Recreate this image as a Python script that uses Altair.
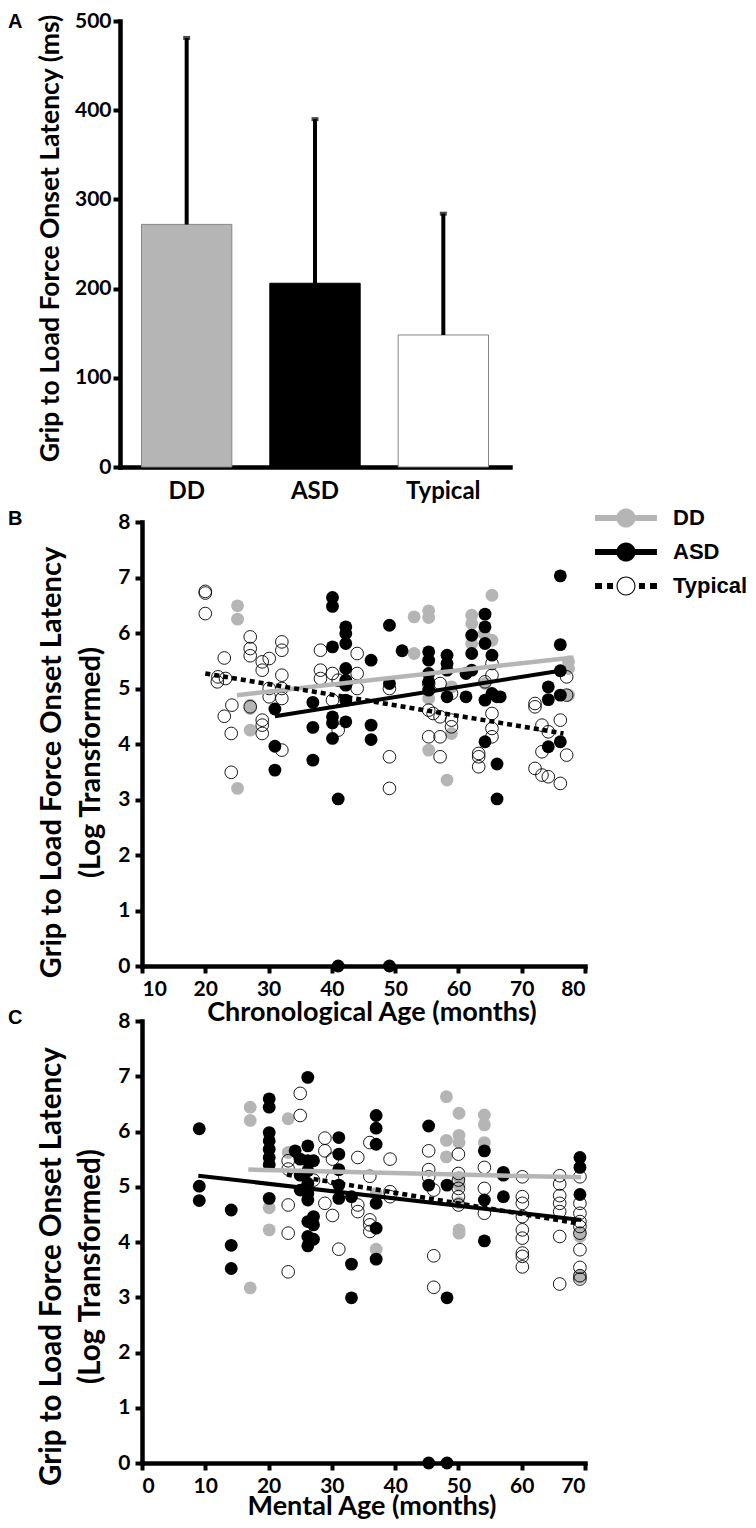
import altair as alt
import pandas as pd

# ---------------- data ----------------
GROUPS = ["DD", "ASD", "Typical"]
MEAN_MS = [272, 206, 148]
UPPER_MS = [481, 390, 284]

# Panel B : chronological age (months) vs log latency
B_DD_X = [25.1, 25.1, 25.1, 27.1, 27.1, 27.1, 53, 55.3, 55.3, 53, 55.3, 55.3, 58.2, 58.9, 58.9,
          62.1, 62.1, 62.1, 65.3, 65.3, 64.2, 77.4, 77.4, 77.4, 64]
B_DD_Y = [6.49, 6.25, 3.2, 4.7, 4.64, 4.25, 6.29, 6.4, 6.28, 5.63, 4.82, 3.89, 3.35, 5.03, 4.19,
          6.32, 6.17, 5.81, 6.68, 5.87, 5.09, 5.48, 5.36, 4.88, 5.99]
B_ASD_X = [31, 31, 31, 37, 37, 37, 40.1, 40.1, 40.1, 40.1, 40.1, 40.1, 41, 41, 42.2, 42.2, 42.2,
           42.2, 42.2, 42.2, 42.2, 42.2, 46.2, 46.2, 46.2, 49.1, 49.1, 49.1, 51.1, 55.3, 55.3, 55.3,
           55.3, 55.3, 58.2, 58.2, 58.2, 58.2, 61.2, 61.2, 62.1, 62.1, 62.1, 64.2, 64.2, 64.2, 64.2,
           64.2, 65.3, 65.3, 66.1, 66.1, 66.1, 66.6, 74.2, 74.2, 74.2, 76.1, 76.1, 76.1, 76.1, 76.1]
B_ASD_Y = [4.63, 3.96, 3.53, 4.75, 4.3, 3.71, 6.64, 6.48, 5.75, 4.49, 4.38, 4.1, 3.01, 0, 6.11, 5.99,
           5.81, 5.36, 5.15, 5.06, 4.79, 4.4, 5.51, 4.34, 4.08, 6.14, 5.09, 0, 5.68, 5.66, 5.51, 5.27,
           5.12, 4.97, 5.6, 5.45, 5.33, 4.85, 4.85, 5.27, 5.96, 5.63, 5.33, 6.34, 6.11, 5.81, 4.79,
           4.04, 5.6, 4.91, 4.85, 3.64, 3.01, 4.85, 5.03, 4.8, 3.95, 7.03, 5.79, 5.32, 4.88, 4.04]
B_TD_X = [20, 20, 20, 21.9, 22, 23, 23, 24.2, 24.1, 24.1, 23.2, 27.1, 27.1, 27.1, 27.1, 29, 29, 29,
          29, 29, 30.1, 30.1, 30.1, 32.1, 32.1, 32.1, 32.1, 32.1, 32.1, 38.2, 38.2, 38.2, 40.1, 40.1,
          41, 41, 44, 44, 44, 49.1, 49.1, 49.1, 55.3, 55.3, 55.3, 56, 57.1, 57.1, 57.1, 57.1, 58.9,
          58.9, 58.9, 63.2, 63.2, 63.2, 64.2, 65.3, 65.3, 65.3, 65.3, 65.3, 72.1, 72.1, 72.1, 73.2,
          73.2, 73.2, 74.2, 74.2, 76.1, 76.1, 77.1, 77.1, 77.1]
B_TD_Y = [6.75, 6.72, 6.35, 5.12, 5.21, 5.55, 4.5, 4.7, 4.19, 3.49, 5.18, 5.93, 5.72, 5.59, 4.67,
          5.48, 5.33, 4.43, 4.34, 4.19, 5.54, 5.0, 4.85, 5.84, 5.69, 5.24, 5.0, 4.82, 3.89, 5.69,
          5.33, 5.18, 5.27, 4.79, 5.15, 4.25, 5.63, 5.27, 5.0, 5.0, 3.77, 3.2, 5.09, 4.61, 4.13,
          4.55, 5.09, 4.49, 4.13, 3.77, 4.91, 4.43, 4.31, 3.83, 3.77, 3.59, 5.12, 5.45, 5.24, 4.55,
          4.28, 4.13, 4.73, 4.67, 3.56, 4.34, 3.86, 3.44, 4.22, 3.41, 4.43, 3.29, 3.8, 5.21, 4.88]
B_FIT_X = {"DD": [25, 78.2], "ASD": [31, 76.1], "Typical": [20, 76.6]}
B_FIT_Y = {"DD": [4.88, 5.56], "ASD": [4.5, 5.32], "Typical": [5.27, 4.19]}

# Panel C : mental age (months) vs log latency
C_DD_X = [17.1, 17.1, 17.1, 20.1, 20.1, 23.1, 23.1, 37, 37, 48.1, 50.1, 48.1, 48.1, 50.1, 50.1,
          50.1, 50.1, 50.1, 50.1, 50.1, 54.1, 54.1, 54.1, 69.2, 69.2, 69.2, 69.2]
C_DD_Y = [6.44, 6.2, 3.17, 4.62, 4.22, 6.23, 5.62, 4.88, 3.87, 6.63, 6.33, 5.84, 5.54, 5.93, 5.8,
          5.17, 5.03, 4.71, 4.22, 4.16, 6.3, 6.12, 5.8, 4.16, 3.39, 3.36, 4.1]
C_ASD_X = [9.05, 9.05, 9.05, 14.1, 14.1, 14.1, 20.1, 20.1, 20.1, 20.1, 20.1, 20.1, 20.1, 20.1, 24.2,
           25, 25, 25, 26.2, 26.2, 26.2, 26.2, 26.2, 26.2, 26.2, 26.2, 26.2, 26.2, 27.1, 27.1, 27.1,
           27.1, 31.1, 31.1, 31.1, 31.1, 31.1, 33.1, 33.1, 33.1, 37, 37, 37, 37, 37, 37, 45.3, 45.3,
           45.3, 48.2, 48.2, 48.2, 54.1, 54.1, 54.1, 57.1, 57.1, 57.1, 69.2, 69.2, 69.2]
C_ASD_Y = [6.05, 5.01, 4.75, 4.58, 3.94, 3.52, 6.59, 6.44, 5.98, 5.83, 5.68, 5.53, 5.4, 4.79, 5.65,
           5.5, 5.21, 4.94, 6.98, 5.74, 5.47, 5.29, 5.06, 4.88, 4.76, 4.37, 4.1, 3.93, 5.47, 4.46,
           4.31, 4.05, 5.89, 5.59, 5.31, 5.03, 4.79, 4.82, 3.6, 2.99, 6.29, 6.06, 5.77, 4.7, 4.25,
           3.69, 6.1, 5.03, 0, 5.03, 2.99, 0, 5.65, 4.76, 4.02, 5.26, 5.21, 4.82, 5.53, 5.35, 4.86]
C_TD_X = [25, 25, 23.1, 23.1, 23.1, 23.1, 23.1, 28.9, 28.9, 28.9, 30.1, 30.1, 30.1, 31.1, 27.1, 34.1,
          34.1, 34.1, 36, 36, 36, 36, 36, 39.2, 39.2, 39.2, 45.3, 45.3, 45.3, 46.1, 46.1, 46.1, 50,
          50, 50, 50, 50, 50, 54.1, 54.1, 54.1, 60.1, 60.1, 60.1, 60.1, 60.1, 60.1, 60.1, 60.1, 60.1,
          66, 66, 66, 66, 66, 66, 66, 69.2, 69.2, 69.2, 69.2, 69.2, 69.2, 69.2, 69.2, 69.2, 69.2]
C_TD_Y = [6.69, 6.29, 5.47, 5.32, 4.67, 4.16, 3.46, 5.88, 5.65, 4.7, 5.5, 5.15, 4.48, 3.87, 5.12,
          5.53, 4.67, 4.55, 5.8, 5.19, 4.4, 4.31, 4.19, 5.5, 4.91, 4.82, 5.65, 5.31, 5.18, 3.75,
          3.18, 4.94, 5.59, 5.24, 5.12, 4.97, 4.82, 4.67, 5.35, 4.97, 4.52, 5.18, 4.82, 4.7, 4.46,
          4.22, 4.07, 3.8, 3.74, 3.55, 5.2, 5.05, 4.84, 4.7, 4.55, 4.1, 3.24, 5.18, 4.7, 4.52, 4.37,
          4.28, 4.16, 3.86, 3.54, 3.39, 3.33]
C_FIT_X = {"DD": [16.8, 69.4], "ASD": [8.9, 69.4], "Typical": [22.9, 68.7]}
C_FIT_Y = {"DD": [5.31, 5.17], "ASD": [5.2, 4.4], "Typical": [5.22, 4.34]}

# ---------------- style ----------------
FONT = "Lato"
LFONT = "Liberation Sans"
GRAY = "#b5b5b5"

# legend symbols (line + marker); 1 unit = sqrt(symbolSize)/2 px
P_SOLID = ("M-2.58,-0.25H-0.76V0.25H-2.58Z M0.76,-0.25H2.58V0.25H0.76Z "
           "M0.8,0A0.8,0.8,0,1,1,-0.8,0A0.8,0.8,0,1,1,0.8,0Z")
P_DASH = ("M-2.58,-0.25H-2.0V0.25H-2.58Z M-1.58,-0.25H-1.08V0.25H-1.58Z "
          "M1.08,-0.25H1.58V0.25H1.08Z M2.0,-0.25H2.58V0.25H2.0Z "
          "M0.79,0A0.79,0.79,0,1,1,-0.79,0A0.79,0.79,0,1,1,0.79,0Z "
          "M0.70,0A0.70,0.70,0,1,0,-0.70,0A0.70,0.70,0,1,0,0.70,0Z")


def letter(ch, y):
    return alt.Chart(pd.DataFrame({"t": [ch]})).mark_text(
        align="left", baseline="alphabetic", font=LFONT, fontSize=20,
        fontWeight="bold", color="black"
    ).encode(x=alt.value(-134), y=alt.value(y), text="t:N")


# ---------------- Panel A ----------------
a_df = pd.DataFrame({"group": GROUPS, "mean": MEAN_MS, "upper": UPPER_MS})
a_x = alt.X("group:N", sort=GROUPS,
            scale=alt.Scale(domain=GROUPS, range=[-22, 368], paddingInner=0.296, paddingOuter=0.1675),
            axis=alt.Axis(title=None, ticks=False, tickSize=0, labelAngle=0, labelFontSize=24,
                          labelPadding=12))
a_yscale = alt.Scale(domain=[0, 500], nice=False)
a_yaxis = alt.Axis(values=[0, 100, 200, 300, 400, 500], offset=22,
                   title="Grip to Load Force Onset Latency (ms)", titleX=-62, titleY=217,
                   titleFontSize=26.5, titleAngle=270, titleAlign="center",
                   titleBaseline="alphabetic", labelPadding=2)

bars = alt.Chart(a_df).mark_bar(strokeWidth=1).encode(
    x=a_x,
    y=alt.Y("mean:Q", scale=a_yscale, axis=a_yaxis),
    fill=alt.Fill("group:N", scale=alt.Scale(domain=GROUPS, range=[GRAY, "#000000", "#ffffff"]),
                  legend=None),
    stroke=alt.Stroke("group:N", scale=alt.Scale(domain=GROUPS, range=["#858585", "#000000", "#858585"]),
                      legend=None),
)
err = alt.Chart(a_df).mark_rule(color="black", strokeWidth=4).encode(
    x=a_x, y=alt.Y("mean:Q", scale=a_yscale, axis=a_yaxis), y2="upper:Q")
cap = alt.Chart(a_df).mark_tick(color="black", thickness=4, size=7).encode(
    x=a_x, y=alt.Y("upper:Q", scale=a_yscale, axis=a_yaxis))

panelA = alt.layer(bars, err, cap, letter("A", 7)).properties(width=368, height=446)


# ---------------- scatter panels ----------------
def scatter_panel(dd_x, dd_y, asd_x, asd_y, td_x, td_y, fit_x, fit_y, xdom, xtitle, xtitle_y,
                  ytitle_y, ytitle_size, height, ch, with_legend):
    xscale = alt.Scale(domain=xdom, nice=False)
    yscale = alt.Scale(domain=[0, 8], nice=False)
    xaxis = alt.Axis(values=list(range(xdom[0], xdom[1] + 1, 10)), title=xtitle,
                     titleX=229.5, titleY=xtitle_y, titleAlign="center", titleFontSize=27,
                     titleBaseline="alphabetic", labelPadding=5)
    yaxis = alt.Axis(values=list(range(0, 9)),
                     title=["Grip to Load Force Onset Latency", "(Log Transformed)"],
                     titleX=-82, titleY=ytitle_y, titleAngle=270, titleAlign="center",
                     titleFontSize=ytitle_size, titleBaseline="alphabetic", titleLineHeight=39,
                     labelPadding=5)
    X = alt.X("x:Q", scale=xscale, axis=xaxis)
    Y = alt.Y("y:Q", scale=yscale, axis=yaxis)

    dd = alt.Chart(pd.DataFrame({"x": dd_x, "y": dd_y})).mark_circle(
        size=165, color=GRAY, opacity=1).encode(x=X, y=Y)
    asd = alt.Chart(pd.DataFrame({"x": asd_x, "y": asd_y})).mark_circle(
        size=165, color="black", opacity=1).encode(x=X, y=Y)
    td = alt.Chart(pd.DataFrame({"x": td_x, "y": td_y})).mark_point(
        shape="circle", filled=False, size=160, stroke="black", strokeWidth=0.9,
        opacity=1).encode(x=X, y=Y)

    l_dd = alt.Chart(pd.DataFrame({"x": fit_x["DD"], "y": fit_y["DD"]})).mark_line(
        color=GRAY, strokeWidth=4.5).encode(x=X, y=Y)
    l_asd = alt.Chart(pd.DataFrame({"x": fit_x["ASD"], "y": fit_y["ASD"]})).mark_line(
        color="black", strokeWidth=4).encode(x=X, y=Y)
    l_td = alt.Chart(pd.DataFrame({"x": fit_x["Typical"], "y": fit_y["Typical"]})).mark_line(
        color="black", strokeWidth=4.5, strokeDash=[5, 4], strokeCap="butt").encode(x=X, y=Y)

    layers = [dd, asd, td, l_dd, l_asd, l_td, letter(ch, 3)]

    if with_legend:
        leg = alt.Legend(title=None, orient="none", legendX=472, legendY=-16, symbolSize=576,
                         rowPadding=11, labelOffset=35, labelFont=LFONT,
                         labelFontSize=22, labelFontWeight="bold", labelColor="black",
                         symbolStrokeWidth=0, symbolOpacity=1, padding=0)
        leg_layer = alt.Chart(pd.DataFrame({"group": GROUPS})).mark_point(
            filled=True, size=576, opacity=0).encode(
            color=alt.Color("group:N", sort=GROUPS,
                            scale=alt.Scale(domain=GROUPS, range=[GRAY, "#000000", "#000000"]),
                            legend=leg),
            shape=alt.Shape("group:N", sort=GROUPS,
                            scale=alt.Scale(domain=GROUPS, range=[P_SOLID, P_SOLID, P_DASH]),
                            legend=leg),
        )
        layers.append(leg_layer)

    return alt.layer(*layers).properties(width=443, height=height)


panelB = scatter_panel(B_DD_X, B_DD_Y, B_ASD_X, B_ASD_Y, B_TD_X, B_TD_Y, B_FIT_X, B_FIT_Y,
                       [10, 80], "Chronological Age (months)", 54, 240, 29, 444, "B", True)
panelC = scatter_panel(C_DD_X, C_DD_Y, C_ASD_X, C_ASD_Y, C_TD_X, C_TD_Y, C_FIT_X, C_FIT_Y,
                       [0, 70], "Mental Age (months)", 51, 245, 29.5, 442, "C", False)

chart = alt.vconcat(panelA, panelB, panelC, spacing=55, bounds="flush").resolve_scale(
    color="independent", shape="independent", fill="independent", stroke="independent"
).resolve_legend(
    color="independent", shape="independent", fill="independent", stroke="independent"
).properties(
    padding={"top": 2, "left": 0, "right": 0, "bottom": 0}
).configure_view(strokeWidth=0).configure_axis(
    domainColor="black", domainWidth=4.5, domainCap="square", tickColor="black", tickWidth=4,
    tickSize=7, labelFont=FONT, labelFontSize=21, labelFontWeight="bold", labelColor="black",
    titleFont=FONT, titleFontSize=23, titleFontWeight="bold", titleColor="black", grid=False
)

chart.save("out.html", embed_options={"renderer": "svg", "actions": False})
